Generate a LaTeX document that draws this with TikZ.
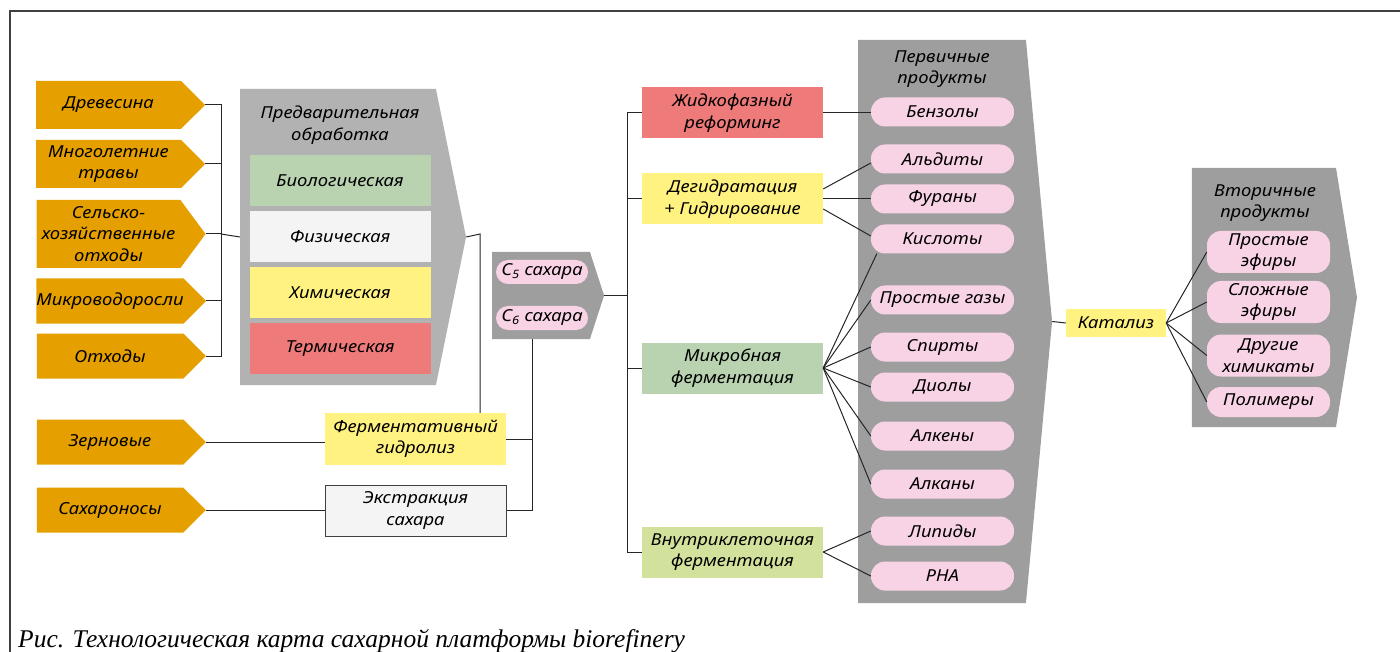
\documentclass[tikz,border=0pt]{standalone}
\usepackage{fontspec}
\setmainfont{Noto Sans}[ItalicFeatures={FakeStretch=1.12}]
\newfontfamily\capfont{Liberation Serif}
\usetikzlibrary{shapes.symbols, positioning}
\definecolor{FeedOrange}{RGB}{229,160,0}
\definecolor{PreGray}{RGB}{178,178,178}
\definecolor{BlkGray}{RGB}{158,158,158}
\definecolor{BioGreen}{RGB}{185,210,176}
\definecolor{PhysWhite}{RGB}{244,244,244}
\definecolor{ChemYellow}{RGB}{255,242,128}
\definecolor{ThermRed}{RGB}{239,122,122}
\definecolor{CellGreen}{RGB}{210,225,155}
\definecolor{ProdPink}{RGB}{248,211,229}
\begin{document}
\begin{tikzpicture}[x=1pt, y=-1pt,
    every node/.style={font=\itshape\fontsize{16.5}{21.5}\selectfont, align=center, inner sep=0pt},
    feed/.style={signal, signal to=east, signal pointer angle=90, fill=FeedOrange,
                 minimum width=169pt, minimum height=45pt},
    block/.style={signal, signal to=east, fill=BlkGray},
    procbox/.style={rectangle, minimum width=181pt, minimum height=51pt},
    pill/.style={rectangle, rounded corners=14pt, fill=ProdPink, minimum width=143pt, minimum height=29pt},
    link/.style={black!85, line width=1pt}]
  \useasboundingbox (0,0) rectangle (1400,652);
  % frame
  \draw[black!75, line width=1.5pt] (10,652) -- (10,11) -- (1400,11);
  % raw materials
  \node[feed, minimum height=48pt] (wood) at (108.5,105) {Древесина};
  \node[feed, minimum height=48pt] (grass) at (108.5,164) {Многолетние\\травы};
  \node[feed, minimum height=68pt, signal pointer angle=107] (agro) at (108.5,234) {Сельско-\\хозяйственные\\отходы};
  \node[feed] (algae) at (110,301) {Микроводоросли};
  \node[feed] (waste) at (110,356) {Отходы};
  \node[feed] (grain) at (110,442) {Зерновые};
  \node[feed] (cane) at (110,510) {Сахароносы};
  % pretreatment
  \node[block, fill=PreGray, signal pointer angle=157, minimum width=226pt, minimum height=296pt] (pre) at (338,237) {};
  \node (pretitle) at (340,125) {Предварительная\\обработка};
  \node[procbox, fill=BioGreen] (bio) at (340,181) {Биологическая};
  \node[procbox, fill=PhysWhite, below=4.5pt of bio] (phys) {Физическая};
  \node[procbox, fill=ChemYellow, below=4.5pt of phys] (chem) {Химическая};
  \node[procbox, fill=ThermRed, below=4.5pt of chem] (therm) {Термическая};
  \node[procbox, fill=ChemYellow, minimum height=52pt] (ferm) at (415.5,439) {Ферментативный\\гидролиз};
  \node[procbox, fill=PhysWhite, draw=black!75, line width=1pt] (extr) at (415.5,510.5) {Экстракция\\сахара};
  % sugars
  \node[block, signal pointer angle=144, minimum width=112pt, minimum height=87pt] (sug) at (541,295.5) {};
  \node[pill, rounded corners=12pt, minimum width=92pt, minimum height=24pt] (c5) at (542,272) {C\textsubscript{5} сахара};
  \node[pill, rounded corners=12pt, minimum width=92pt, minimum height=24pt] (c6) at (542,318) {C\textsubscript{6} сахара};
  % conversion
  \node[procbox, fill=ThermRed] (refo) at (732.5,113) {Жидкофазный\\реформинг};
  \node[procbox, fill=ChemYellow] (dehy) at (732.5,199) {Дегидратация\\+ Гидрирование};
  \node[procbox, fill=BioGreen] (micro) at (732.5,368) {Микробная\\ферментация};
  \node[procbox, fill=CellGreen] (intra) at (732.5,552) {Внутриклеточная\\ферментация};
  % primary products
  \node[block, signal pointer angle=169.4, minimum width=194pt, minimum height=563pt] (prim) at (942,321.5) {};
  \node (primtitle) at (942,69) {Первичные\\продукты};
  \node[pill] (benz) at (942.5,112) {Бензолы};
  \node[pill] (ald) at (942.5,159) {Альдиты};
  \node[pill] (fur) at (942.5,199) {Фураны};
  \node[pill] (kis) at (942.5,239) {Кислоты};
  \node[pill] (gas) at (942.5,300) {Простые газы};
  \node[pill] (alc) at (942.5,347) {Спирты};
  \node[pill] (diol) at (942.5,387) {Диолы};
  \node[pill] (alken) at (942.5,436) {Алкены};
  \node[pill] (alkan) at (942.5,484) {Алканы};
  \node[pill] (lip) at (942.5,531) {Липиды};
  \node[pill] (pha) at (942.5,576) {РНА};
  % catalysis and secondary products
  \node[rectangle, fill=ChemYellow, minimum width=100pt, minimum height=28pt] (cat) at (1116,323) {Катализ};
  \node[block, signal pointer angle=161.6, minimum width=165pt, minimum height=259pt] (sec) at (1264,297.5) {};
  \node (sectitle) at (1265,203) {Вторичные\\продукты};
  \node[pill, minimum width=123pt, minimum height=42pt] (ether) at (1268.5,252) {Простые\\эфиры};
  \node[pill, minimum width=123pt, minimum height=42pt] (ester) at (1268.5,302) {Сложные\\эфиры};
  \node[pill, minimum width=123pt, minimum height=42pt] (other) at (1268.5,355.5) {Другие\\химикаты};
  \node[pill, minimum width=123pt, minimum height=30pt] (poly) at (1268.5,402) {Полимеры};
  % connectors
  \coordinate (jraw) at (221,234);
  \coordinate (jpre) at (480,234);
  \coordinate (jsug) at (532,339);
  \coordinate (jconv) at (627,295.5);
  \foreach \f in {wood, grass, agro, algae, waste}
    \draw[link] (\f.east) -| (jraw);
  \draw[link] (jraw) -- (pre.west);
  \draw[link] (pre.east) -- (jpre) -- (jpre |- ferm.north);
  \draw[link] (grain.east) -- (grain.east -| ferm.west);
  \draw[link] (cane.east) -- (cane.east -| extr.west);
  \draw[link] (ferm.east) -- (ferm.east -| jsug);
  \draw[link] (extr.east) -| (jsug);
  \draw[link] (sug.east) -- (jconv);
  \foreach \p in {refo, dehy, micro, intra}
    \draw[link] (jconv) |- (\p.west);
  \draw[link] (refo.east) -- (refo.east -| benz.west);
  \draw[link] ([yshift=10pt]dehy.east) -- ([yshift=-4pt]ald.west);
  \draw[link] (dehy.east) -- (fur.west);
  \draw[link] ([yshift=-10pt]dehy.east) -- ([yshift=3pt]kis.west);
  \draw[link] (micro.east) -- ([xshift=6pt]kis.south west);
  \foreach \q in {gas, alc, diol, alken, alkan}
    \draw[link] (micro.east) -- (\q.west);
  \draw[link] (intra.east) -- (lip.west);
  \draw[link] (intra.east) -- (pha.west);
  \draw[link] (prim.east) -- (cat.west);
  \foreach \s in {ether, ester, other, poly}
    \draw[link] (cat.east) -- (\s.west);
  % caption
  \node[anchor=base west, font=\capfont\itshape\fontsize{25.5}{30}\selectfont] (caption) at (18,647)
    {Рис. Технологическая карта сахарной платформы biorefinery};
\end{tikzpicture}
\end{document}
